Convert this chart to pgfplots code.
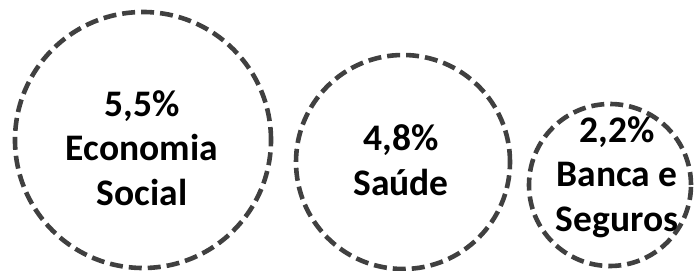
\documentclass[border=0pt]{standalone}
\usepackage{pgfplots}
\pgfplotsset{compat=1.18}
\usepackage{fontspec}
\setmainfont{Carlito}
\definecolor{ringgray}{HTML}{404040}
\begin{document}
\begin{tikzpicture}
\begin{axis}[
  scale only axis, width=696bp, height=271bp,
  xmin=0, xmax=696, ymin=0, ymax=271,
  hide axis, clip=false,
]
% circles: centre x, centre y, radius (in bp)
\addplot[only marks, mark=o, mark size=128bp,
  mark options={draw=ringgray, line width=4.6bp, dash pattern=on 13bp off 6bp}]
  coordinates {(143,131)};
\addplot[only marks, mark=o, mark size=107bp,
  mark options={draw=ringgray, line width=4.6bp, dash pattern=on 13bp off 6bp}]
  coordinates {(403,109)};
\addplot[only marks, mark=o, mark size=81bp,
  mark options={draw=ringgray, line width=4.6bp, dash pattern=on 13bp off 6bp}]
  coordinates {(610,86)};
% labels
\addplot[draw=none, mark=none, nodes near coords, point meta=explicit symbolic,
  every node near coord/.append style={anchor=center, align=center,
    font=\fontsize{37.5bp}{44.5bp}\selectfont\bfseries, text=black, inner sep=0pt}]
  coordinates {
    (142,123) [{5,5\%\\Economia\\Social}]
    (401,111) [{4,8\%\\Saúde}]
    (617,94) [{2,2\%\\Banca e\\Seguros}]
  };
\end{axis}
\pgfresetboundingbox
\useasboundingbox (current axis.south west) rectangle (current axis.north east);
\end{tikzpicture}
\end{document}
